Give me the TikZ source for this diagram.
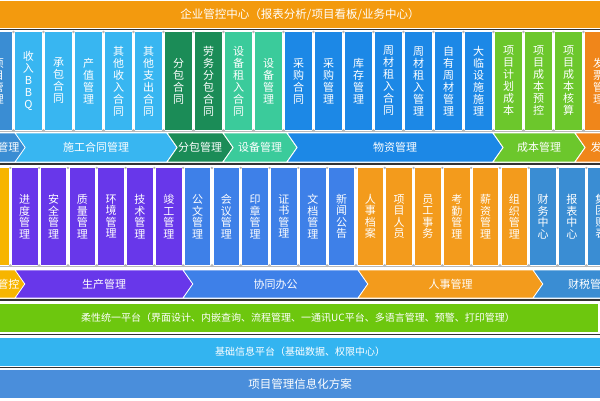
\documentclass[tikz,border=0pt]{standalone}
\usepackage{fontspec}
\setmainfont{Noto Sans CJK SC}
\usetikzlibrary{shapes.symbols}

\definecolor{cTop}{HTML}{F39A0E}
\definecolor{cSteel}{HTML}{3A8DD3}
\definecolor{cLBlue}{HTML}{38B6F1}
\definecolor{cDGreen}{HTML}{1B8C57}
\definecolor{cTeal}{HTML}{3BCB9B}
\definecolor{cBlue}{HTML}{1C88E6}
\definecolor{cLime}{HTML}{6CC72C}
\definecolor{cOrng}{HTML}{F0861A}
\definecolor{cAmber}{HTML}{F7B500}
\definecolor{cPurple}{HTML}{6837EA}
\definecolor{cBlueB}{HTML}{3E80E8}
\definecolor{cOrngB}{HTML}{F39B1C}
\definecolor{cGreenBar}{HTML}{6DC70E}
\definecolor{cSkyBar}{HTML}{33B4F0}
\definecolor{cBaseBar}{HTML}{4A8EDB}

% 竖排文字
\newcommand\vtxt[1]{\expandafter\vtxtA#1\relax\relax}
\def\vtxtA#1#2\relax{#1\ifx\relax#2\relax\else\\\vtxtA#2\relax\fi}

\begin{document}
\begin{tikzpicture}[x=1pt,y=-1pt,
  bar/.style={rectangle,minimum width=600pt,inner sep=0pt,text=white},
  boxA/.style={rectangle,minimum width=27pt,minimum height=98pt,inner sep=0pt,text=white,align=center,font=\fontsize{11}{12}\selectfont},
  boxB/.style={rectangle,minimum width=25.5pt,minimum height=97pt,inner sep=0pt,text=white,align=center,font=\fontsize{11}{11.5}\selectfont},
  chev/.style={shape=signal,signal from=west,signal to=east,signal pointer angle=110,inner sep=0pt,draw=white,line width=0.8pt,text=white,font=\fontsize{11}{12}\selectfont},
  shadow/.style={line width=1.6pt,black!80},
  pillar/.style={gray!55}]
 \clip (0,0) rectangle (600,400);
 \fill[white] (0,0) rectangle (600,400); %背景

 %顶部
 \node[bar,fill=cTop,minimum height=27pt,font=\fontsize{11.5}{12}\selectfont] (top) at (300,14.5) {企业管控中心（报表分析/项目看板/业务中心）};
 \draw[shadow] (0,29.5)--(600,29.5);

 %第一行
 \foreach \t/\c [count=\j from 0] in {项目管理/cSteel,收入BBQ/cLBlue,承包合同/cLBlue,产值管理/cLBlue,其他收入合同/cLBlue,其他支出合同/cLBlue,分包合同/cDGreen,劳务分包合同/cDGreen,设备租入合同/cTeal,设备管理/cTeal,采购合同/cBlue,采购管理/cBlue,库存管理/cBlue,周材租入合同/cBlue,周材租入管理/cBlue,自有周材管理/cBlue,大临设施施理/cBlue,项目计划成本/cLime,项目成本预控/cLime,项目成本核算/cLime,发票管理/cOrng}
  \node[boxA,fill=\c] (a\j) at (-1.5+30*\j,81) {\vtxt{\t}};
 \draw[pillar,line width=0.8pt] (0,131)--(600,131);
 \foreach \k in {0,...,19} {
  \fill[pillar] (13.5+30*\k,32) circle (1.3);
  \fill[pillar] (13.5+30*\k,130.5) circle (1.6);
 }

 %第一行箭头
 \node[chev,fill=cSteel,minimum width=55pt,minimum height=29pt] (p0) at (-2.5,147.5) {项目管理};
 \node[chev,fill=cLBlue,minimum width=162pt,minimum height=29pt] (p1) at (96,147.5) {施工合同管理};
 \node[chev,fill=cDGreen,minimum width=66pt,minimum height=29pt] (p2) at (200,147.5) {分包管理};
 \node[chev,fill=cTeal,minimum width=74pt,minimum height=29pt] (p3) at (260,147.5) {设备管理};
 \node[chev,fill=cBlue,minimum width=216pt,minimum height=29pt] (p4) at (395,147.5) {物资管理};
 \node[chev,fill=cLime,minimum width=92pt,minimum height=29pt] (p5) at (539,147.5) {成本管理};
 \node[chev,fill=cOrng,minimum width=75pt,minimum height=29pt] (p6) at (612.5,147.5) {发票管理};
 \draw[shadow] (0,164)--(600,164);

 %第二行
 \foreach \t/\c [count=\j from 0] in {/cAmber,进度管理/cPurple,安全管理/cPurple,质量管理/cPurple,环境管理/cPurple,技术管理/cPurple,竣工管理/cPurple,公文管理/cBlueB,会议管理/cBlueB,印章管理/cBlueB,证书管理/cBlueB,文档管理/cBlueB,新闻公告/cBlueB,人事档案/cOrngB,项目人员/cOrngB,员工事务/cOrngB,考勤管理/cOrngB,薪资管理/cOrngB,组织管理/cOrngB,财务中心/cSteel,报表中心/cSteel,集团账表/cSteel}
  \node[boxB,fill=\c] (b\j) at (-4.05+28.8*\j,216.5) {\vtxt{\t}};
 \draw[pillar,line width=0.8pt] (0,266)--(600,266);
 \foreach \k in {0,...,20} {
  \fill[pillar] (10.35+28.8*\k,168) circle (1.3);
  \fill[pillar] (10.35+28.8*\k,265.5) circle (1.6);
 }

 %第二行箭头
 \node[chev,fill=cAmber,minimum width=55pt,minimum height=28pt] (q0) at (-2.5,284) {资金管控};
 \node[chev,fill=cPurple,minimum width=178pt,minimum height=28pt] (q1) at (104,284) {生产管理};
 \node[chev,fill=cBlueB,minimum width=185pt,minimum height=28pt] (q2) at (275.5,284) {协同办公};
 \node[chev,fill=cOrngB,minimum width=185pt,minimum height=28pt] (q3) at (450.5,284) {人事管理};
 \node[chev,fill=cSteel,minimum width=114pt,minimum height=28pt] (q4) at (590,284) {财税管理};
 \draw[shadow] (0,300)--(600,300);

 %平台
 \node[bar,fill=cGreenBar,minimum height=28pt,font=\fontsize{10}{11}\selectfont] (flex) at (298,318) {柔性统一平台（界面设计、内嵌查询、流程管理、一通讯UC平台、多语言管理、预警、打印管理）};
 \draw[shadow] (0,334.5)--(600,334.5);
 \node[bar,fill=cSkyBar,minimum height=28pt,font=\fontsize{10}{11}\selectfont] (base) at (300,351.5) {基础信息平台（基础数据、权限中心）};
 \draw[shadow] (0,367.5)--(600,367.5);
 \node[bar,fill=cBaseBar,minimum height=28pt,font=\fontsize{11.5}{12}\selectfont] (plan) at (300,384) {项目管理信息化方案};
\end{tikzpicture}
\end{document}
